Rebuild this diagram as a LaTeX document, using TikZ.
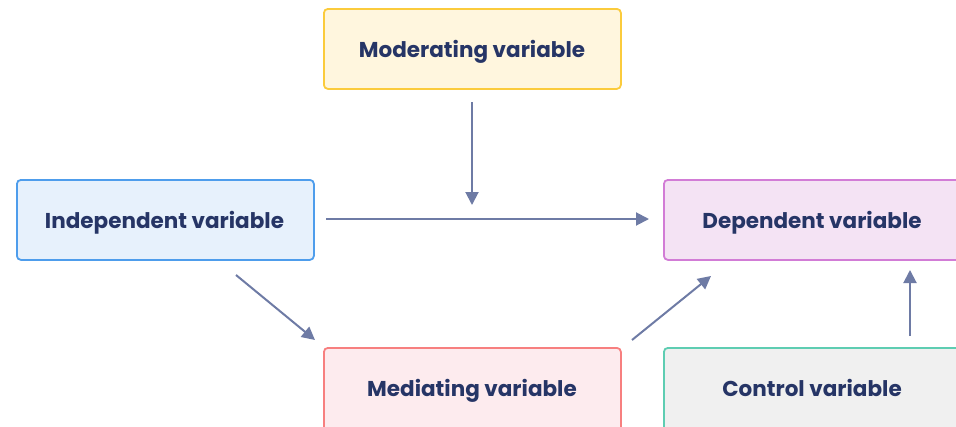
\documentclass[tikz,border=0pt]{standalone}
\usepackage{fontspec}
\setmainfont{Poppins}
\usetikzlibrary{arrows.meta}
\definecolor{txt}{HTML}{263566}
\definecolor{arr}{HTML}{6E7BA5}
\definecolor{indF}{HTML}{E7F1FC}\definecolor{indD}{HTML}{4E9DEC}
\definecolor{modF}{HTML}{FFF6DE}\definecolor{modD}{HTML}{FBCB3C}
\definecolor{depF}{HTML}{F4E3F4}\definecolor{depD}{HTML}{D27CD6}
\definecolor{medF}{HTML}{FDEBEE}\definecolor{medD}{HTML}{F77F7F}
\definecolor{conF}{HTML}{F0F0F0}\definecolor{conD}{HTML}{5ECDB2}
\tikzset{
  varbox/.style={draw, line width=1.8pt, rounded corners=4pt, minimum width=297pt,
    minimum height=80pt, anchor=north west, inner sep=0pt},
  lbl/.style={text=txt, anchor=base, font=\fontsize{21.5}{24}\selectfont\bfseries},
  conn/.style={draw=arr, line width=2pt, -{Triangle[length=13pt,width=13pt]}}
}
\begin{document}
\begin{tikzpicture}[x=1pt,y=-1pt]
\useasboundingbox (0,0) rectangle (956,426);
\clip (0,0) rectangle (956,426);
\node[varbox, fill=indF, draw=indD] (ind) at (16,179) {};
\node[varbox, fill=modF, draw=modD] (mod) at (323,8) {};
\node[varbox, fill=depF, draw=depD, minimum width=310pt] (dep) at (663,179) {};
\node[varbox, fill=medF, draw=medD, minimum height=95pt] (med) at (323,347) {};
\node[varbox, fill=conF, draw=conD, minimum width=310pt, minimum height=95pt] (con) at (663,347) {};
\node[lbl] (indt) at (164.5,228) {Independent variable};
\node[lbl] (modt) at (472,57) {Moderating variable};
\node[lbl] (dept) at (812,228) {Dependent variable};
\node[lbl] (medt) at (472,396) {Mediating variable};
\node[lbl] (cont) at (812,396) {Control variable};
\coordinate (a1s) at (326,219); \coordinate (a1e) at (649,219);
\coordinate (a2s) at (472,102); \coordinate (a2e) at (472,205);
\coordinate (a3s) at (236,275); \coordinate (a3e) at (315,340);
\coordinate (a4s) at (632,340); \coordinate (a4e) at (711,276);
\coordinate (a5s) at (910,336); \coordinate (a5e) at (910,270);
\draw[conn] (a1s) -- (a1e);
\draw[conn] (a2s) -- (a2e);
\draw[conn] (a3s) -- (a3e);
\draw[conn] (a4s) -- (a4e);
\draw[conn] (a5s) -- (a5e);
\end{tikzpicture}
\end{document}
